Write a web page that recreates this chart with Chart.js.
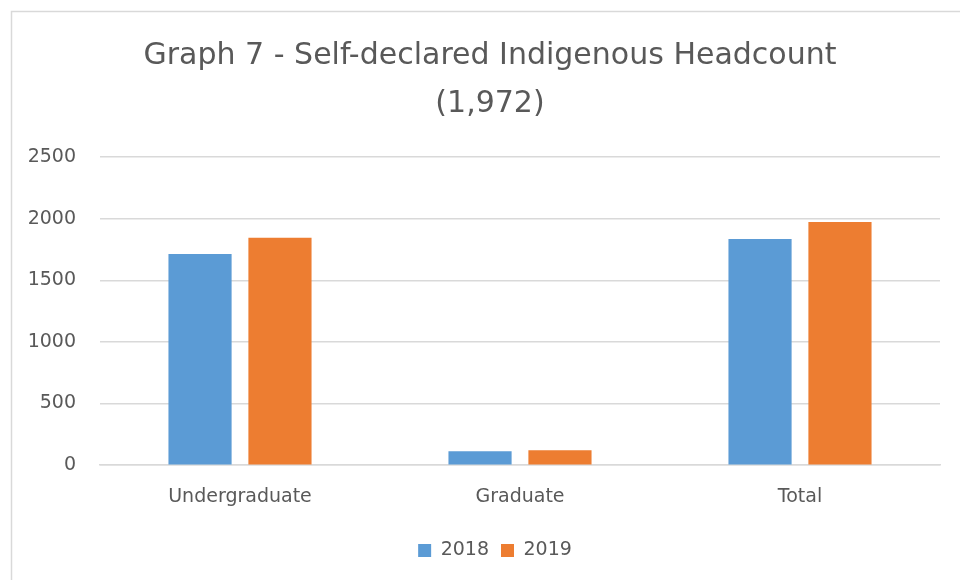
<!DOCTYPE html>
<html>
<head>
<meta charset="utf-8">
<title>Graph 7</title>
<script src="https://cdn.jsdelivr.net/npm/chart.js@4"></script>
<style>
  html, body { margin: 0; padding: 0; background: #fff; overflow: hidden; }
  #wrap { position: relative; width: 960px; height: 580px; }
</style>
</head>
<body>
<div id="wrap"><canvas id="chart" width="960" height="580"></canvas></div>
<script>
const categories = ['Undergraduate', 'Graduate', 'Total'];
const years = ['2018', '2019'];
const values2018 = [1713, 114, 1834];
const values2019 = [1845, 122, 1972];
const yTicks = [0, 500, 1000, 1500, 2000, 2500];

const textColor = '#595959';
const fontFamily = '"DejaVu Sans", sans-serif';

// light grey frame around the chart, like the office chart border
const framePlugin = {
  id: 'frame',
  beforeDraw(chart) {
    const ctx = chart.ctx;
    ctx.save();
    ctx.fillStyle = '#fff';
    ctx.fillRect(0, 0, chart.width, chart.height);
    ctx.strokeStyle = '#d9d9d9';
    ctx.lineWidth = 1.5;
    ctx.strokeRect(11.5, 11.5, chart.width + 20, chart.height + 20);
    ctx.restore();
  },
  // title and legend are centred on the whole frame, not only the padded area
  afterLayout(chart) {
    if (chart.titleBlock) chart.titleBlock.left += 20;
    if (chart.legend) chart.legend.left += 30;
  }
};

new Chart(document.getElementById('chart'), {
  type: 'bar',
  data: {
    labels: categories,
    datasets: [
      { label: years[0], data: values2018, backgroundColor: '#5B9BD5' },
      { label: years[1], data: values2019, backgroundColor: '#ED7D31' }
    ]
  },
  options: {
    responsive: false,
    animation: false,
    layout: { padding: { left: 20, right: 20, top: 32, bottom: 10 } },
    datasets: { bar: { categoryPercentage: 0.571, barPercentage: 0.79 } },
    plugins: {
      title: {
        display: true,
        text: ['Graph 7 - Self-declared Indigenous Headcount', '(1,972)'],
        color: textColor,
        font: { family: fontFamily, size: 30, weight: 'normal', lineHeight: 1.6 },
        padding: { top: 0, bottom: 29 }
      },
      legend: {
        position: 'bottom',
        labels: {
          color: textColor,
          font: { family: fontFamily, size: 19 },
          boxWidth: 13,
          boxHeight: 13,
          padding: 12
        }
      },
      tooltip: { enabled: false }
    },
    scales: {
      x: {
        afterFit: scale => { scale.height += 9; },
        grid: { display: false },
        border: { color: '#d9d9d9', width: 1.5 },
        ticks: { color: textColor, font: { family: fontFamily, size: 19 }, padding: 12 }
      },
      y: {
        min: 0,
        max: 2500,
        afterBuildTicks: scale => { scale.ticks = yTicks.map(v => ({ value: v })); },
        afterFit: scale => { scale.width = 80; },
        grid: { color: '#d9d9d9', lineWidth: 1.5, drawTicks: false },
        border: { display: false },
        ticks: {
          color: textColor,
          font: { family: fontFamily, size: 19 },
          padding: 24,
          callback: v => String(v)
        }
      }
    }
  },
  plugins: [framePlugin]
});
</script>
</body>
</html>
